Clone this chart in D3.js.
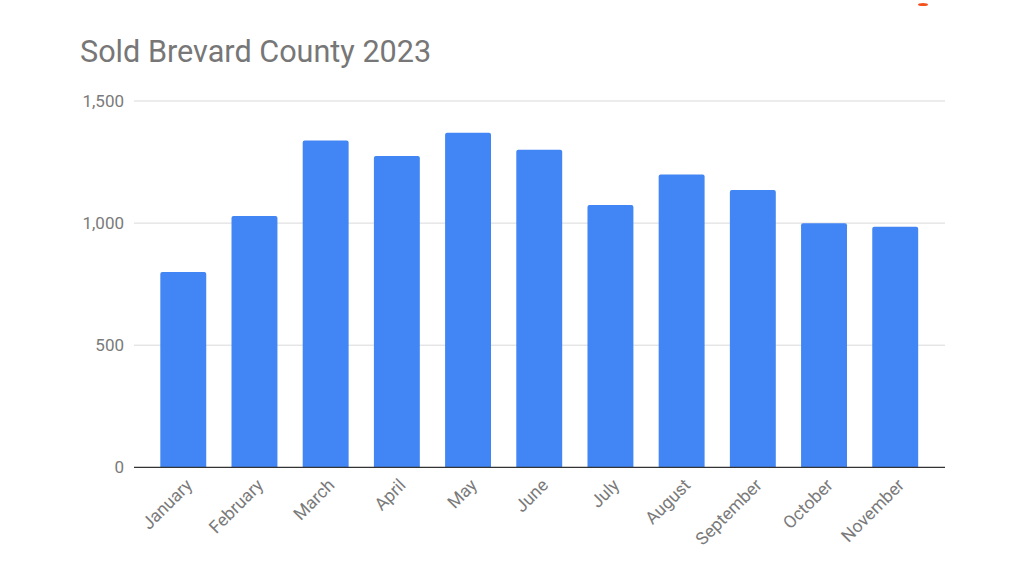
<!DOCTYPE html>
<html>
<head>
<meta charset="utf-8">
<script src="https://cdn.jsdelivr.net/npm/d3@7"></script>
<style>
html,body{margin:0;padding:0;background:#fff;}
svg{display:block;font-family:Roboto, "Noto Sans", sans-serif;}
</style>
</head>
<body>
<svg id="chart" width="1024" height="576"></svg>
<script>
const title = "Sold Brevard County 2023";
const months = ["January","February","March","April","May","June","July","August","September","October","November"];
const sold = [800, 1029, 1338, 1275, 1370, 1300, 1074, 1199, 1136, 999, 985];
const yTicks = [0, 500, 1000, 1500];

const svg = d3.select("#chart");
const plot = {left: 134, right: 945, top: 101, bottom: 467.3};

const x = d3.scaleBand().domain(months).range([147.5, 931]).paddingInner(0.355).paddingOuter(0.18);
const y = d3.scaleLinear().domain([0, 1500]).range([plot.bottom, plot.top]);

// small orange mark at top right
svg.append("ellipse").attr("cx", 923).attr("cy", 4.5).attr("rx", 5).attr("ry", 1.6).attr("fill", "#f4511e");

svg.append("text").attr("x", 80).attr("y", 62).attr("fill", "#777777")
  .attr("font-size", 30.6).text(title);

// grid
svg.append("g").selectAll("line").data(yTicks.filter(d => d > 0)).join("line")
  .attr("x1", plot.left).attr("x2", plot.right)
  .attr("y1", d => y(d)).attr("y2", d => y(d))
  .attr("stroke", "#d9d9d9").attr("stroke-width", 1);

// y labels
const fmt = d3.format(",");
svg.append("g").selectAll("text").data(yTicks).join("text")
  .attr("x", 124).attr("y", d => y(d) + 6)
  .attr("text-anchor", "end").attr("font-size", 17).attr("fill", "#7a7a7a")
  .text(d => fmt(d));

// bars
svg.append("g").selectAll("path").data(months).join("path")
  .attr("fill", "#4285f4")
  .attr("d", (m, i) => {
    const x0 = x(m), w = x.bandwidth(), y0 = y(sold[i]), yb = y(0), r = 2;
    return `M${x0},${yb}V${y0 + r}Q${x0},${y0} ${x0 + r},${y0}H${x0 + w - r}Q${x0 + w},${y0} ${x0 + w},${y0 + r}V${yb}Z`;
  });

// baseline
svg.append("line").attr("x1", plot.left).attr("x2", plot.right)
  .attr("y1", y(0)).attr("y2", y(0)).attr("stroke", "#333").attr("stroke-width", 1.3);

// x labels
svg.append("g").selectAll("text").data(months).join("text")
  .attr("text-anchor", "end").attr("font-size", 17.5).attr("fill", "#7a7a7a")
  .attr("transform", m => `translate(${x(m) + x.bandwidth() / 2 + 10},${y(0) + 19}) rotate(-45)`)
  .text(m => m);
</script>
</body>
</html>
